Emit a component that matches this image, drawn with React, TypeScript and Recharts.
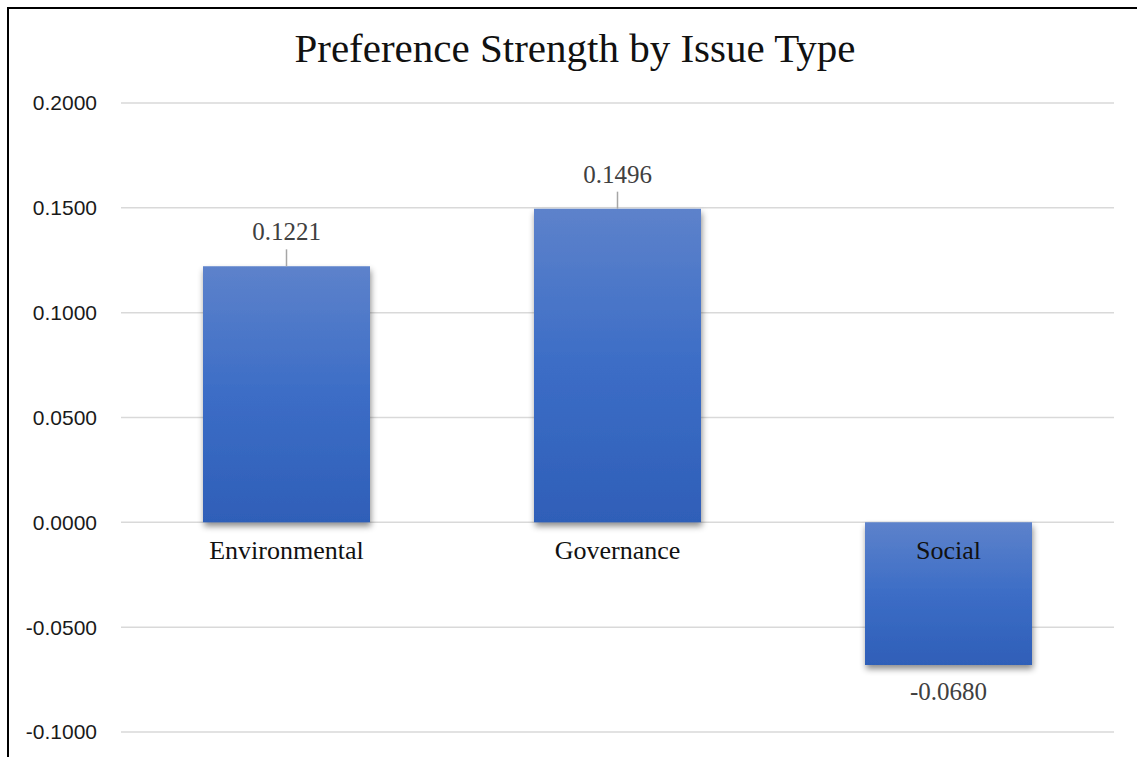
import React from 'react';
import { BarChart, Bar, XAxis, YAxis, CartesianGrid, LabelList } from 'recharts';

// Preference strength per ESG issue type
const categories = ['Environmental', 'Governance', 'Social'];
const strengths = [0.1221, 0.1496, -0.068];
const yTicks = [-0.1, -0.05, 0, 0.05, 0.1, 0.15, 0.2];

const data = categories.map((name, i) => ({ name, value: strengths[i] }));

const SERIF = '"Liberation Serif", "DejaVu Serif", serif';
const SANS = '"Liberation Sans", Arial, sans-serif';

// Value label with a short leader line above positive bars, plain text below negative ones
const ValueLabel = (props: any) => {
  const { x, y, width, height, value } = props;
  const top = Math.min(y, y + height);
  const bottom = Math.max(y, y + height);
  const cx = x + width / 2;
  const text = Number(value).toFixed(4);
  if (value >= 0) {
    return (
      <g>
        <line x1={cx} x2={cx} y1={top} y2={top - 17} stroke="#a6a6a6" strokeWidth={1.5} />
        <text x={cx} y={top - 26} textAnchor="middle" fontFamily={SERIF} fontSize={25} fill="#404040">
          {text}
        </text>
      </g>
    );
  }
  return (
    <text x={cx} y={bottom + 35} textAnchor="middle" fontFamily={SERIF} fontSize={25} fill="#404040">
      {text}
    </text>
  );
};

// Category name drawn just under the zero line
const CategoryLabel = (props: any) => {
  const { x, y, width, height, value, index } = props;
  const top = Math.min(y, y + height);
  const bottom = Math.max(y, y + height);
  const zero = strengths[index] >= 0 ? bottom : top;
  return (
    <text x={x + width / 2} y={zero + 37} textAnchor="middle" fontFamily={SERIF} fontSize={26} fill="#111">
      {value}
    </text>
  );
};

export default function App() {
  return (
    <div
      style={{
        position: 'fixed',
        left: 7,
        top: 7,
        width: 1140,
        height: 760,
        borderLeft: '2px solid #000',
        borderTop: '2px solid #000',
        boxSizing: 'border-box',
        overflow: 'hidden',
        background: '#fff',
      }}
    >
      <BarChart
        width={1120}
        height={740}
        data={data}
        margin={{ top: 94, right: 15, bottom: 17, left: 0 }}
      >
        <defs>
          <linearGradient id="barFill" x1="0" y1="0" x2="0" y2="1">
            <stop offset="0%" stopColor="#5D82CB" />
            <stop offset="50%" stopColor="#3C6DC6" />
            <stop offset="100%" stopColor="#2F5FB8" />
          </linearGradient>
          <filter id="barShadow" x="-10%" y="-10%" width="130%" height="130%">
            <feDropShadow dx="1" dy="4" stdDeviation="3" floodColor="#000" floodOpacity="0.45" />
          </filter>
        </defs>
        <text x={566} y={53} textAnchor="middle" fontFamily={SERIF} fontSize={41} fill="#111">
          Preference Strength by Issue Type
        </text>
        <CartesianGrid vertical={false} stroke="#d9d9d9" strokeWidth={1.5} />
        <XAxis dataKey="name" hide />
        <YAxis
          width={112}
          domain={[-0.1, 0.2]}
          ticks={yTicks}
          axisLine={false}
          tickLine={false}
          tickSize={0}
          tickMargin={24}
          tickFormatter={(v: number) => v.toFixed(4)}
          tick={{ fontFamily: SANS, fontSize: 21, fill: '#1a1a1a' }}
          interval={0}
        />
        <Bar
          dataKey="value"
          fill="url(#barFill)"
          barSize={167}
          isAnimationActive={false}
          style={{ filter: 'url(#barShadow)' }}
        >
          <LabelList dataKey="value" content={<ValueLabel />} />
          <LabelList dataKey="name" content={<CategoryLabel />} />
        </Bar>
      </BarChart>
    </div>
  );
}
